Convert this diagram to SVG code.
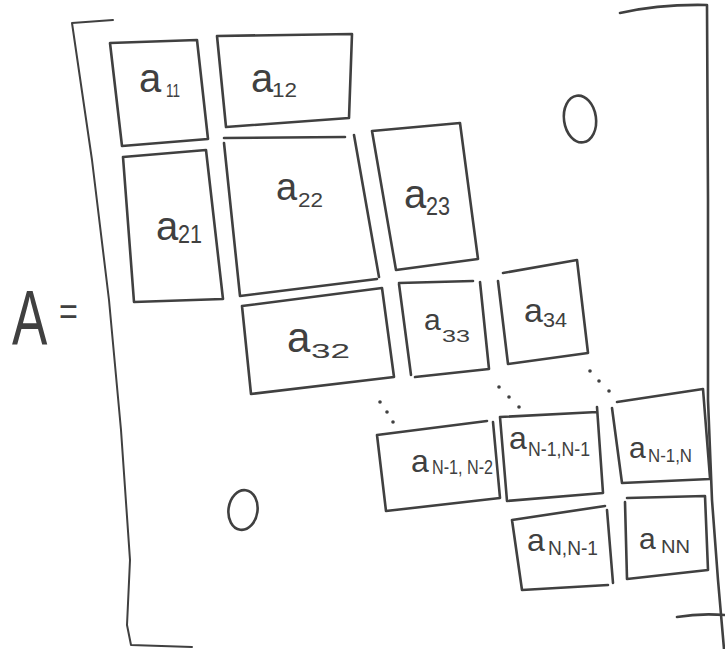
<svg xmlns="http://www.w3.org/2000/svg" width="725" height="649" viewBox="0 0 725 649">
  <style>
    .ink { fill: none; stroke: #404040; stroke-width: 2.6; stroke-linecap: round; stroke-linejoin: round; }
    .thin { fill: none; stroke: #404040; stroke-width: 2; stroke-linecap: round; stroke-linejoin: round; }
    .lbl { font-family: "Liberation Sans", "DejaVu Sans", sans-serif; fill: #404040; }
    .dot { fill: #404040; }
  </style>
  <rect width="725" height="649" fill="#ffffff"/>

  <!-- A = -->
  <g id="lhs">
    <text class="lbl" transform="translate(12,345) scale(0.68,1)" font-size="78">A</text>
    <text class="lbl" transform="translate(59,325) scale(0.85,1)" font-size="38">=</text>
  </g>

  <!-- matrix brackets -->
  <g id="brackets">
    <path class="thin" d="M113,20 L72,23 L92,160 L109,300 L121,430 L130,560 L127,625 L131,645 L192,647"/>
    <path class="ink" d="M620,13 Q660,4 707,5 L708,200 L708,400 L712,500 L718,580 L724,649"/>
    <path class="ink" d="M677,617 Q700,613 725,615"/>
  </g>

  <!-- zero blocks -->
  <g id="zero-upper">
    <ellipse class="ink" cx="580" cy="119" rx="16" ry="23.5" transform="rotate(-8 580 119)"/>
  </g>
  <g id="zero-lower">
    <ellipse class="ink" cx="243" cy="510" rx="14.5" ry="20" transform="rotate(8 243 510)"/>
  </g>

  <g id="a11">
    <path class="ink" d="M110,43 L197,40 L208,139 L122,146 Z"/>
    <text class="lbl"><tspan x="139" y="92" font-size="40">a</tspan><tspan x="166" y="97" font-size="19" textLength="14" lengthAdjust="spacingAndGlyphs">11</tspan></text>
  </g>
  <g id="a12">
    <path class="ink" d="M217,36 L352,34 L349,118 L226,127 Z"/>
    <text class="lbl"><tspan x="251" y="92" font-size="40">a</tspan><tspan x="272" y="97" font-size="21" textLength="25" lengthAdjust="spacingAndGlyphs">12</tspan></text>
  </g>
  <g id="a21">
    <path class="ink" d="M123,157 L206,150 L223,299 L134,302 Z"/>
    <text class="lbl"><tspan x="156" y="240" font-size="40">a</tspan><tspan x="178" y="243" font-size="26" textLength="24" lengthAdjust="spacingAndGlyphs">21</tspan></text>
  </g>
  <g id="a22">
    <path class="ink" d="M224,138 L345,137 M354,135 L379,277 M377,279 L240,296 L224,143"/>
    <text class="lbl"><tspan x="276" y="200" font-size="38">a</tspan><tspan x="298" y="207" font-size="21" textLength="25" lengthAdjust="spacingAndGlyphs">22</tspan></text>
  </g>
  <g id="a23">
    <path class="ink" d="M372,131 L460,123 L478,259 L396,270 Z"/>
    <text class="lbl"><tspan x="404" y="208" font-size="40">a</tspan><tspan x="426" y="215" font-size="25" textLength="24" lengthAdjust="spacingAndGlyphs">23</tspan></text>
  </g>
  <g id="a32">
    <path class="ink" d="M242,306 L382,288 L394,377 L251,394 Z"/>
    <text class="lbl"><tspan x="287" y="352" font-size="42">a</tspan><tspan x="311" y="358" font-size="21" textLength="39" lengthAdjust="spacingAndGlyphs">32</tspan></text>
  </g>
  <g id="a33">
    <path class="ink" d="M399,283 L473,281 M480,282 L489,369 L415,377 M411,375 L399,284"/>
    <text class="lbl"><tspan x="424" y="330" font-size="30">a</tspan><tspan x="442" y="342" font-size="17" textLength="28" lengthAdjust="spacingAndGlyphs">33</tspan></text>
  </g>
  <g id="a34">
    <path class="ink" d="M503,273 L577,260 L588,353 L508,364 L498,281"/>
    <text class="lbl"><tspan x="524" y="322" font-size="34">a</tspan><tspan x="543" y="327" font-size="20" textLength="24" lengthAdjust="spacingAndGlyphs">34</tspan></text>
  </g>

  <!-- continuation dots -->
  <g id="dots">
    <circle class="dot" cx="380" cy="402" r="1.8"/>
    <circle class="dot" cx="387" cy="412" r="1.8"/>
    <circle class="dot" cx="393" cy="422" r="1.8"/>
    <circle class="dot" cx="499" cy="387" r="1.8"/>
    <circle class="dot" cx="509" cy="397" r="1.8"/>
    <circle class="dot" cx="519" cy="407" r="1.8"/>
    <circle class="dot" cx="590" cy="371" r="1.8"/>
    <circle class="dot" cx="599" cy="381" r="1.8"/>
    <circle class="dot" cx="609" cy="391" r="1.8"/>
  </g>

  <g id="aN-1N-2">
    <path class="ink" d="M377,435 L487,421 M493,422 L500,498 L386,511 L377,435"/>
    <text class="lbl"><tspan x="411" y="472" font-size="32">a</tspan><tspan x="432" y="474" font-size="20" textLength="61" lengthAdjust="spacingAndGlyphs">N-1, N-2</tspan></text>
  </g>
  <g id="aN-1N-1">
    <path class="ink" d="M500,417 L597,412 M597,407 L603,493 L507,501 L500,417"/>
    <text class="lbl"><tspan x="509" y="449" font-size="32">a</tspan><tspan x="528" y="456" font-size="21" textLength="62" lengthAdjust="spacingAndGlyphs">N-1,N-1</tspan></text>
  </g>
  <g id="aN-1N">
    <path class="ink" d="M617,402 L703,389 L710,478 M710,479 L622,483 M612,408 L622,483"/>
    <text class="lbl"><tspan x="629" y="458" font-size="30">a</tspan><tspan x="648" y="462" font-size="19" textLength="44" lengthAdjust="spacingAndGlyphs">N-1,N</tspan></text>
  </g>
  <g id="aNN-1">
    <path class="ink" d="M512,520 L605,506 M607,510 L613,583 M608,585 L522,590 L512,520"/>
    <text class="lbl"><tspan x="527" y="551" font-size="32">a</tspan><tspan x="548" y="555" font-size="21" textLength="50" lengthAdjust="spacingAndGlyphs">N,N-1</tspan></text>
  </g>
  <g id="aNN">
    <path class="ink" d="M627,498 L705,496 L708,570 L627,579 L625,502"/>
    <text class="lbl"><tspan x="639" y="549" font-size="30">a</tspan><tspan x="661" y="553" font-size="19" textLength="29" lengthAdjust="spacingAndGlyphs">NN</tspan></text>
  </g>
</svg>
